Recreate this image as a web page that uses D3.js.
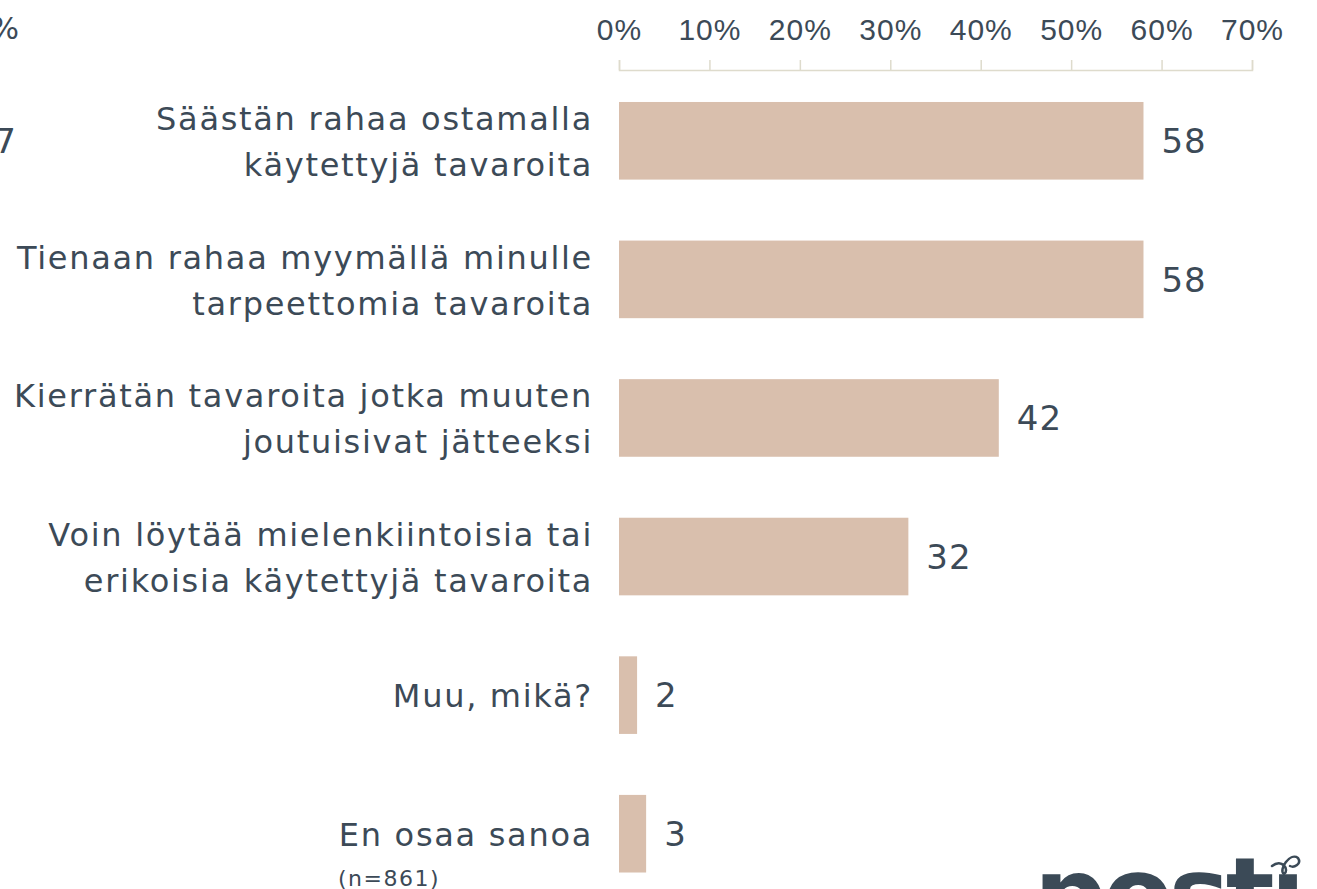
<!DOCTYPE html>
<html lang="fi">
<head>
  <meta charset="UTF-8">
  <title>Käytettyjen tavaroiden kauppa</title>
  <script src="https://d3js.org/d3.v7.min.js"></script>
  <style>
    body { margin: 0; background: #fff; }
    svg { display: block; font-family: "DejaVu Sans", sans-serif; }
    .axis path, .axis line { stroke: #dedbcc; stroke-width: 1.5px; }
    .axis text { fill: #3c4a57; font-size: 30px; letter-spacing: 1px; }
    .label { fill: #3c4a57; font-size: 32px; letter-spacing: 1.7px; }
    .value { fill: #3c4a57; font-size: 34px; letter-spacing: 1px; }
  </style>
</head>
<body>
  <div id="chart"></div>
  <script>
    // data
    const categories = [
      ["Säästän rahaa ostamalla", "käytettyjä tavaroita"],
      ["Tienaan rahaa myymällä minulle", "tarpeettomia tavaroita"],
      ["Kierrätän tavaroita jotka muuten", "joutuisivat jätteeksi"],
      ["Voin löytää mielenkiintoisia tai", "erikoisia käytettyjä tavaroita"],
      ["Muu, mikä?"],
      ["En osaa sanoa"]
    ];
    const values = [58, 58, 42, 32, 2, 3];
    const tickValues = [0, 10, 20, 30, 40, 50, 60, 70];
    const note = "(n=861)";

    const width = 1317, height = 889;

    const svg = d3.select("#chart").append("svg")
      .attr("width", width)
      .attr("height", height);

    const x = d3.scaleLinear().domain([0, 70]).range([619, 1252]);
    const y = d3.scaleBand()
      .domain(d3.range(categories.length))
      .range([71.5, 903])
      .paddingInner(0.44)
      .paddingOuter(0.22);

    // leftover bits of the neighbouring chart, cut by the edge
    svg.append("text")
      .attr("x", 19).attr("y", 39).attr("text-anchor", "end")
      .attr("fill", "#3c4a57").attr("font-size", 30).text("%");
    svg.append("text")
      .attr("x", 16).attr("y", 153).attr("text-anchor", "end")
      .attr("fill", "#3c4a57").attr("font-size", 34).text("7");

    svg.append("g")
      .attr("class", "axis")
      .attr("transform", "translate(0,70)")
      .call(d3.axisTop(x).tickValues(tickValues)
        .tickSize(10).tickSizeOuter(10).tickPadding(20)
        .tickFormat(d => d + "%"));

    svg.selectAll("rect.bar")
      .data(values)
      .join("rect")
      .attr("class", "bar")
      .attr("x", x(0))
      .attr("y", (d, i) => y(i))
      .attr("width", d => x(d) - x(0))
      .attr("height", y.bandwidth())
      .attr("fill", "#d9bfad");

    svg.selectAll("text.value")
      .data(values)
      .join("text")
      .attr("class", "value")
      .attr("x", d => x(d) + 18)
      .attr("y", (d, i) => y(i) + y.bandwidth() / 2)
      .attr("dy", "0.36em")
      .text(d => d);

    const lineH = 46;
    const labels = svg.selectAll("text.label")
      .data(categories)
      .join("text")
      .attr("class", "label")
      .attr("text-anchor", "end")
      .attr("y", (d, i) => y(i) + y.bandwidth() / 2);

    labels.selectAll("tspan")
      .data(d => d.map((t, j) => ({ t, j, n: d.length })))
      .join("tspan")
      .attr("x", 593)
      .attr("dy", d => d.j === 0 ? ((0.38 * 32) - (d.n - 1) * lineH / 2) + "px" : lineH + "px")
      .text(d => d.t);

    svg.append("text")
      .attr("x", 338)
      .attr("y", 886)
      .attr("fill", "#3c4a57")
      .attr("font-size", 22)
      .attr("letter-spacing", 1.5)
      .text(note);

    // posti logo, mostly below the bottom edge (ribbon instead of the i dot)
    const logo = svg.append("g").attr("fill", "#3b4a57");
    logo.append("text")
      .attr("x", 1034)
      .attr("y", 930)
      .attr("font-size", 102)
      .attr("font-weight", 700)
      .attr("letter-spacing", -4)
      .text("postı");
    logo.append("path")
      .attr("d", "M1272,866 C1282,858 1290,870 1284,874 C1278,870 1290,852 1298,858 C1302,864 1294,868 1290,866")
      .attr("fill", "none")
      .attr("stroke", "#3b4a57")
      .attr("stroke-width", 2.5)
      .attr("stroke-linecap", "round");
  </script>
</body>
</html>
